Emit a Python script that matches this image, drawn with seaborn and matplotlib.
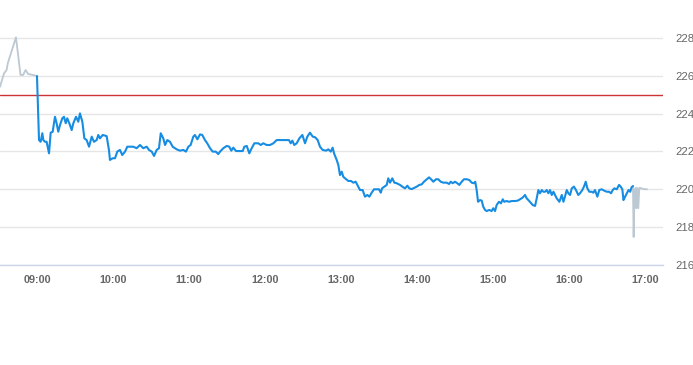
import pandas as pd
import matplotlib
matplotlib.use("Agg")
import matplotlib.pyplot as plt
import seaborn as sns

# Intraday price, minutes after midnight -> price
pre_min = [510.8, 514.0, 516.0, 517.0, 523.4, 527.0, 529.0, 531.0, 533.0, 537.0, 540.0]
pre_price = [225.42, 226.13, 226.30, 226.67, 228.03, 226.04, 226.04, 226.30, 226.09, 226.04, 225.98]

reg_min = [
    540.0, 541.6, 542.9, 544.2, 545.0, 546.3, 547.6, 549.5, 550.8, 552.4,
    554.2, 555.5, 556.8, 558.2, 560.0, 561.3, 562.7, 563.9, 565.5, 567.4,
    568.7, 570.8, 572.6, 573.9, 575.8, 577.4, 579.2, 581.1, 583.2, 585.0,
    587.1, 588.4, 589.7, 591.9, 595.0, 596.8, 597.6, 599.8, 601.6, 603.4,
    605.5, 607.3, 609.5, 611.3, 613.4, 616.0, 618.7, 621.3, 623.9, 626.6,
    628.4, 630.6, 632.4, 634.5, 636.3, 637.7, 639.7, 641.1, 642.9, 645.0,
    647.1, 650.3, 652.9, 655.5, 657.6, 659.5, 661.3, 663.4, 664.7, 666.6,
    668.7, 670.5, 672.6, 674.4, 676.6, 678.7, 681.1, 683.1, 684.5, 687.1,
    689.8, 691.8, 693.4, 695.0, 697.1, 700.3, 702.4, 703.7, 705.6, 707.6,
    709.5, 711.6, 714.7, 716.6, 718.7, 721.3, 724.0, 726.6, 729.2, 733.2,
    737.1, 738.9, 740.3, 741.6, 743.1, 745.0, 747.1, 749.5, 751.6, 753.4,
    755.5, 757.7, 759.5, 761.6, 763.4, 765.5, 768.2, 770.0, 771.9, 773.4,
    774.5, 776.6, 777.9, 779.2, 780.6, 781.8, 783.9, 785.8, 787.9, 789.7,
    791.6, 792.9, 795.0, 797.1, 798.9, 800.8, 802.4, 804.2, 806.1, 808.2,
    810.0, 811.4, 812.4, 814.2, 816.1, 817.3, 818.7, 820.5, 822.1, 824.0,
    826.6, 828.4, 830.5, 832.4, 833.9, 835.8, 837.9, 839.8, 841.8, 843.7,
    845.5, 847.7, 849.5, 851.1, 852.9, 855.0, 856.8, 858.7, 860.8, 863.4,
    865.3, 866.6, 868.2, 870.0, 871.8, 873.4, 875.3, 877.1, 879.2, 881.3,
    883.2, 885.0, 886.0, 887.1, 888.2, 889.7, 891.1, 892.3, 893.7, 895.0,
    897.1, 898.9, 900.2, 901.6, 902.9, 904.7, 906.3, 907.7, 908.9, 910.8,
    912.6, 914.8, 917.4, 919.5, 921.3, 923.4, 925.3, 926.6, 927.9, 929.8,
    931.3, 933.2, 934.5, 935.8, 937.1, 938.5, 939.7, 941.1, 942.4, 943.7,
    945.0, 946.4, 947.7, 949.0, 950.3, 952.4, 954.3, 955.6, 956.8, 958.2,
    959.5, 960.8, 962.2, 963.9, 965.5, 967.3, 968.7, 970.5, 971.8, 973.2,
    974.5, 976.0, 977.9, 979.2, 980.5, 982.4, 983.9, 985.8, 987.7, 989.8,
    991.6, 993.2, 994.5, 995.8, 997.7, 999.5, 1000.8, 1002.1, 1003.0, 1004.3,
    1005.7, 1007.0, 1008.3, 1009.4, 1010.5,
]
reg_price = [
    225.98, 222.60, 222.51, 222.96, 222.60, 222.51, 222.51, 221.90, 222.99, 223.04,
    223.83, 223.49, 223.04, 223.40, 223.75, 223.83, 223.49, 223.75, 223.49, 223.13,
    223.49, 223.83, 223.57, 224.01, 223.57, 222.69, 222.60, 222.25, 222.78, 222.51,
    222.60, 222.87, 222.69, 222.87, 222.81, 222.08, 221.55, 221.64, 221.64, 221.99,
    222.08, 221.81, 221.99, 222.25, 222.25, 222.25, 222.17, 222.34, 222.17, 222.25,
    222.08, 221.99, 221.76, 222.08, 222.17, 222.96, 222.69, 222.34, 222.60, 222.51,
    222.25, 222.11, 222.04, 222.08, 221.99, 222.25, 222.34, 222.78, 222.87, 222.64,
    222.90, 222.87, 222.60, 222.43, 222.17, 221.99, 221.99, 221.86, 221.99, 222.17,
    222.29, 222.25, 222.04, 222.20, 222.02, 222.02, 222.02, 222.25, 222.29, 221.90,
    222.17, 222.43, 222.43, 222.34, 222.43, 222.34, 222.34, 222.43, 222.60, 222.60,
    222.60, 222.60, 222.43, 222.57, 222.34, 222.43, 222.69, 222.87, 222.43, 222.78,
    222.99, 222.78, 222.75, 222.60, 222.25, 222.08, 222.04, 222.11, 221.99, 222.20,
    221.90, 221.55, 221.28, 220.75, 220.93, 220.66, 220.54, 220.44, 220.44, 220.35,
    220.40, 220.23, 219.96, 219.96, 219.61, 219.70, 219.61, 219.82, 220.00, 220.00,
    220.00, 219.82, 220.05, 220.14, 220.23, 220.58, 220.35, 220.58, 220.35, 220.32,
    220.23, 220.14, 220.05, 220.19, 220.05, 220.01, 220.08, 220.14, 220.23, 220.26,
    220.40, 220.53, 220.63, 220.53, 220.40, 220.53, 220.53, 220.40, 220.35, 220.35,
    220.28, 220.40, 220.32, 220.40, 220.32, 220.23, 220.40, 220.53, 220.53, 220.49,
    220.35, 220.32, 220.40, 219.96, 219.34, 219.43, 219.40, 219.08, 218.91, 218.85,
    218.91, 218.85, 219.00, 218.85, 219.17, 219.34, 219.26, 219.47, 219.34, 219.38,
    219.34, 219.38, 219.38, 219.40, 219.47, 219.56, 219.70, 219.52, 219.43, 219.29,
    219.17, 219.12, 219.52, 219.96, 219.79, 219.96, 219.87, 219.87, 219.96, 219.79,
    219.96, 219.70, 219.87, 219.70, 219.52, 219.34, 219.70, 219.34, 219.61, 219.96,
    219.79, 219.70, 220.05, 220.14, 219.96, 219.70, 219.79, 219.96, 220.14, 220.40,
    220.05, 219.87, 219.87, 219.82, 219.96, 219.61, 219.96, 220.00, 219.93, 219.87,
    219.87, 219.79, 219.96, 220.05, 220.00, 220.23, 220.14, 220.00, 219.43, 219.61,
    219.79, 219.96, 219.87, 220.11, 220.17,
]

post_min = [1010.5, 1011.0, 1011.8, 1012.7, 1013.1, 1013.9, 1014.7, 1015.5, 1016.3, 1018.9, 1021.6]
post_price = [220.17, 217.48, 219.96, 220.07, 219.00, 220.07, 219.00, 220.07, 220.07, 220.01, 220.00]

prev_close = 225.0
y_ticks = [216, 218, 220, 222, 224, 226, 228]
x_labels = ["09:00", "10:00", "11:00", "12:00", "13:00", "14:00", "15:00", "16:00", "17:00"]

day = pd.Timestamp("2024-01-02")


def to_df(mins, prices):
    return pd.DataFrame({"time": day + pd.to_timedelta(mins, unit="min"), "price": prices})


sns.set_style("white")
plt.rcParams["font.family"] = ["Liberation Sans", "DejaVu Sans"]

fig = plt.figure(figsize=(6.93, 3.65), dpi=100)
ax = fig.add_axes([0, 100 / 365, 663 / 693, 265 / 365])

# gridlines first so the lines sit on top
ax.set_axisbelow(True)
ax.yaxis.grid(True, color="#e6e6e6", lw=1)
ax.xaxis.grid(False)

ax.axhline(prev_close, color="#cc3333", lw=1, zorder=2)

sns.lineplot(data=to_df(pre_min, pre_price), x="time", y="price", ax=ax,
             color="#bcc8d2", lw=1.3, estimator=None, sort=False, zorder=3)
sns.lineplot(data=to_df(post_min, post_price), x="time", y="price", ax=ax,
             color="#bcc8d2", lw=1.3, estimator=None, sort=False, zorder=3)
sns.lineplot(data=to_df(reg_min, reg_price), x="time", y="price", ax=ax,
             color="#168de2", lw=1.5, estimator=None, sort=False, zorder=4)

ax.set_xlim(day + pd.Timedelta(minutes=510.8), day + pd.Timedelta(minutes=1034.2))
ax.set_ylim(216, 230)

xt = [day + pd.Timedelta(s + ":00") for s in x_labels]
ax.set_xticks(xt)
ax.set_xticklabels(x_labels, fontweight="bold")
ax.tick_params(axis="x", direction="out", length=3.6, width=0.8, color="#ccd6eb",
               labelcolor="#666666", labelsize=7.8, pad=3.6)

ax.yaxis.tick_right()
ax.set_yticks(y_ticks)
ax.set_yticklabels([str(v) for v in y_ticks])
ax.tick_params(axis="y", length=0, labelcolor="#666666", labelsize=8.2, pad=9.2)

for side in ["top", "left", "right"]:
    ax.spines[side].set_visible(False)
ax.spines["bottom"].set_color("#ccd6eb")
ax.spines["bottom"].set_linewidth(1)

ax.set_xlabel("")
ax.set_ylabel("")

fig.savefig("out.png", dpi=100)
